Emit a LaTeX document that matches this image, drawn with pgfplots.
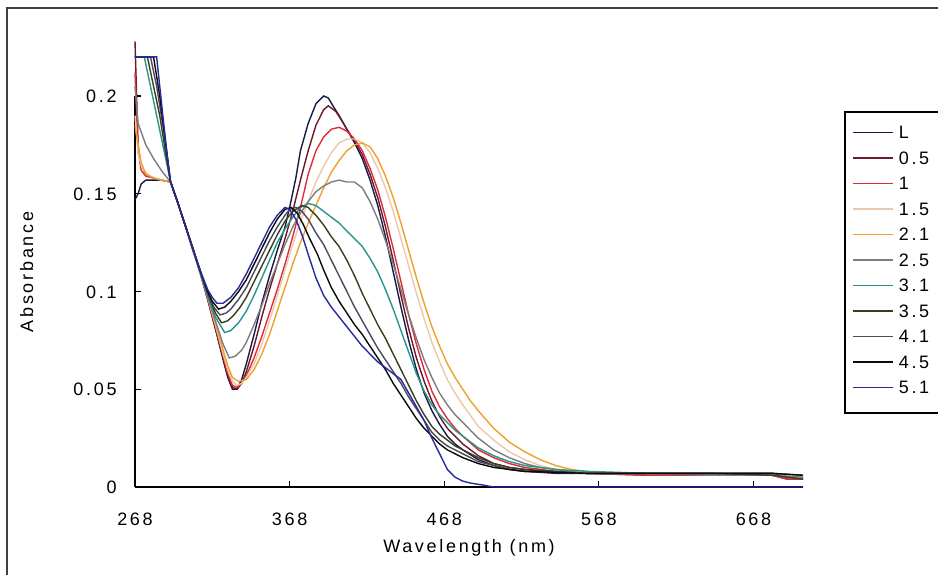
\documentclass[border=0pt]{standalone}
\usepackage{pgfplots}
\pgfplotsset{compat=1.18}
\usepackage{fontspec}
\setmainfont{Liberation Sans}[LetterSpace=15]
\definecolor{cL}{RGB}{25,25,70}
\definecolor{c05}{RGB}{110,25,40}
\definecolor{c1}{RGB}{220,45,60}
\definecolor{c15}{RGB}{238,200,172}
\definecolor{c21}{RGB}{240,160,45}
\definecolor{c25}{RGB}{125,125,125}
\definecolor{c31}{RGB}{40,150,140}
\definecolor{c35}{RGB}{60,60,30}
\definecolor{c41}{RGB}{75,75,95}
\definecolor{c45}{RGB}{10,10,10}
\definecolor{c51}{RGB}{40,40,160}
\newcommand{\cf}{\fontsize{9}{11}\selectfont}
\begin{document}
\begin{tikzpicture}[x=1pt,y=1pt]
\useasboundingbox (0,0) rectangle (469,287);
\clip (0,0) rectangle (469,287);
\fill[white] (0,0) rectangle (469,287);
\draw[line width=0.8pt, black!75] (3.5,-2) -- (3.5,283) -- (472,283);
\draw[line width=0.6pt, black] (422.5,231) rectangle (480,80.5);
\begin{axis}[
  at={(67.5pt,43.5pt)}, anchor=south west,
  scale only axis, width=334pt, height=195.5pt,
  xmin=268, xmax=700, ymin=0, ymax=0.2,
  enlargelimits=false, clip=false,
  axis x line=bottom, axis y line=left,
  axis line style={-, line width=0.8pt, black},
  tick align=inside, major tick length=3pt,
  tick style={black, line width=0.6pt},
  xtick={268,368,468,568,668},
  xticklabels={268,368,468,568,668},
  ytick={0,0.05,0.1,0.15,0.2},
  yticklabels={0,0.05,0.1,0.15,0.2},
  scaled y ticks=false,
  xticklabel style={font=\cf, inner sep=0pt, anchor=north, yshift=-12.75pt, text height=6.5pt, text depth=0pt},
  yticklabel style={font=\cf, inner sep=0pt, anchor=east, xshift=-9pt, text height=6.5pt, text depth=0pt},
  xlabel={Wavelength (nm)},
  xlabel style={font=\cf, at={(axis description cs:0.5,-0.168)}, anchor=base},
  ylabel={Absorbance},
  ylabel style={font=\cf, at={(axis description cs:-0.162,0.55)}, anchor=center, rotate=0},
  legend style={at={(axis description cs:1.0734,0.9246)}, anchor=north west, draw=none, fill=none,
    inner sep=0pt, row sep=6.25pt, font=\cf,
    nodes={inner sep=0pt, text height=6.5pt, text depth=0pt},
    /tikz/every odd column/.append style={column sep=2.5pt}},
  legend cell align=left,
  legend image code/.code={\draw[#1] (0pt,0pt) -- (20pt,0pt);},
  every axis plot/.append style={line width=0.7pt},
]
\addplot[cL] coordinates {(268,0.147)(270,0.150)(272,0.155)(275,0.157)(280,0.157)(285,0.157)(291,0.156)(295,0.147)(300,0.135)(305,0.122)(310,0.110)(315,0.096)(320,0.081)(325,0.065)(328,0.056)(331,0.050)(334,0.050)(337,0.055)(340,0.063)(345,0.078)(350,0.094)(355,0.108)(360,0.121)(365,0.133)(368,0.143)(372,0.158)(375,0.172)(380,0.186)(385,0.196)(390,0.200)(393,0.199)(396,0.195)(400,0.190)(405,0.183)(410,0.176)(415,0.168)(420,0.157)(425,0.144)(430,0.128)(435,0.110)(440,0.092)(445,0.075)(450,0.060)(455,0.048)(460,0.039)(465,0.032)(470,0.026)(475,0.022)(480,0.019)(490,0.014)(500,0.011)(510,0.009)(520,0.008)(530,0.0075)(540,0.007)(560,0.007)(580,0.007)(600,0.007)(620,0.007)(640,0.007)(660,0.007)(680,0.007)(690,0.005)(700,0.005)};
\addlegendentry{L}
\addplot[c05] coordinates {(268,0.228)(270,0.175)(272,0.163)(275,0.160)(280,0.158)(285,0.157)(291,0.156)(295,0.147)(300,0.135)(305,0.123)(310,0.110)(315,0.096)(320,0.081)(325,0.066)(328,0.057)(331,0.051)(334,0.050)(337,0.053)(340,0.059)(345,0.072)(350,0.087)(355,0.101)(360,0.114)(365,0.127)(370,0.141)(375,0.157)(380,0.172)(385,0.185)(390,0.193)(393,0.195)(398,0.192)(402,0.187)(405,0.183)(410,0.177)(415,0.170)(420,0.160)(425,0.148)(430,0.133)(435,0.116)(440,0.098)(445,0.081)(450,0.066)(455,0.054)(460,0.044)(465,0.036)(470,0.030)(475,0.026)(480,0.022)(490,0.016)(500,0.012)(510,0.010)(520,0.009)(530,0.008)(540,0.0075)(560,0.007)(600,0.006)(640,0.006)(680,0.006)(690,0.004)(700,0.004)};
\addlegendentry{0.5}
\addplot[c1] coordinates {(268,0.212)(270,0.172)(272,0.162)(275,0.159)(280,0.158)(285,0.157)(291,0.156)(295,0.147)(300,0.135)(305,0.123)(310,0.110)(315,0.097)(320,0.082)(325,0.067)(328,0.058)(331,0.052)(334,0.051)(337,0.053)(340,0.057)(345,0.066)(350,0.077)(355,0.089)(360,0.101)(365,0.114)(370,0.128)(375,0.143)(380,0.160)(385,0.172)(390,0.179)(395,0.183)(400,0.184)(405,0.182)(410,0.178)(415,0.172)(420,0.163)(425,0.152)(430,0.138)(435,0.122)(440,0.105)(445,0.088)(450,0.073)(455,0.060)(460,0.049)(465,0.041)(470,0.035)(475,0.030)(480,0.026)(490,0.019)(500,0.015)(510,0.012)(520,0.010)(530,0.009)(540,0.008)(560,0.007)(600,0.006)(640,0.006)(680,0.006)(690,0.004)(700,0.004)};
\addlegendentry{1}
\addplot[c15] coordinates {(268,0.19)(270,0.17)(273,0.162)(278,0.159)(285,0.157)(291,0.156)(295,0.147)(300,0.135)(305,0.123)(310,0.110)(315,0.097)(320,0.083)(325,0.068)(328,0.060)(331,0.054)(334,0.052)(337,0.053)(340,0.056)(345,0.063)(350,0.073)(355,0.085)(360,0.098)(365,0.111)(370,0.124)(375,0.136)(380,0.146)(385,0.156)(390,0.164)(395,0.171)(400,0.176)(405,0.178)(410,0.178)(415,0.176)(420,0.171)(425,0.163)(430,0.153)(435,0.141)(440,0.127)(445,0.113)(450,0.099)(455,0.086)(460,0.074)(465,0.064)(470,0.055)(475,0.048)(480,0.042)(490,0.031)(500,0.024)(510,0.018)(520,0.014)(530,0.011)(540,0.009)(550,0.008)(560,0.007)(600,0.007)(640,0.007)(680,0.006)(700,0.005)};
\addlegendentry{1.5}
\addplot[c21] coordinates {(268,0.185)(270,0.175)(272,0.166)(275,0.160)(280,0.158)(285,0.157)(291,0.156)(295,0.147)(300,0.135)(305,0.123)(310,0.111)(315,0.098)(320,0.084)(325,0.070)(328,0.062)(331,0.056)(335,0.054)(340,0.055)(345,0.060)(350,0.068)(355,0.078)(360,0.090)(365,0.102)(370,0.114)(375,0.125)(380,0.135)(385,0.144)(390,0.153)(395,0.161)(400,0.167)(405,0.172)(410,0.175)(415,0.176)(420,0.174)(425,0.168)(430,0.159)(435,0.148)(440,0.135)(445,0.121)(450,0.107)(455,0.094)(460,0.082)(465,0.072)(470,0.063)(475,0.056)(480,0.050)(485,0.044)(490,0.039)(500,0.030)(510,0.023)(520,0.018)(530,0.014)(540,0.011)(550,0.009)(560,0.008)(570,0.007)(600,0.007)(640,0.007)(680,0.006)(700,0.005)};
\addlegendentry{2.1}
\addplot[c25] coordinates {(268,0.205)(270,0.186)(275,0.175)(280,0.168)(285,0.162)(291,0.156)(295,0.147)(300,0.135)(305,0.123)(310,0.110)(315,0.097)(320,0.085)(325,0.073)(329,0.066)(333,0.067)(337,0.070)(340,0.074)(345,0.083)(350,0.093)(355,0.104)(360,0.114)(365,0.124)(370,0.133)(375,0.140)(380,0.146)(385,0.151)(390,0.154)(395,0.156)(400,0.157)(405,0.156)(410,0.156)(415,0.153)(420,0.146)(425,0.137)(430,0.126)(435,0.114)(440,0.101)(445,0.088)(450,0.076)(455,0.065)(460,0.056)(465,0.048)(470,0.042)(475,0.037)(480,0.033)(490,0.025)(500,0.019)(510,0.015)(520,0.012)(530,0.010)(540,0.009)(550,0.008)(560,0.007)(600,0.007)(640,0.006)(680,0.006)(700,0.005)};
\addlegendentry{2.5}
\addplot[c31] coordinates {(268,0.22)(274,0.22)(278,0.205)(282,0.19)(286,0.175)(291,0.156)(295,0.147)(300,0.135)(305,0.123)(310,0.110)(315,0.098)(320,0.087)(326,0.079)(330,0.080)(335,0.084)(340,0.090)(345,0.098)(350,0.107)(355,0.116)(360,0.125)(365,0.132)(370,0.138)(375,0.143)(380,0.145)(385,0.144)(390,0.141)(395,0.138)(400,0.135)(405,0.131)(410,0.127)(415,0.123)(420,0.117)(425,0.110)(430,0.101)(435,0.091)(440,0.080)(445,0.069)(450,0.058)(455,0.049)(460,0.042)(465,0.037)(470,0.033)(475,0.029)(480,0.026)(490,0.020)(500,0.016)(510,0.013)(520,0.011)(530,0.010)(540,0.009)(560,0.008)(600,0.007)(640,0.007)(680,0.006)(700,0.004)};
\addlegendentry{3.1}
\addplot[c35] coordinates {(268,0.22)(276,0.22)(280,0.205)(284,0.19)(288,0.17)(291,0.156)(295,0.147)(300,0.135)(305,0.123)(310,0.111)(315,0.099)(320,0.089)(324,0.084)(328,0.085)(332,0.088)(336,0.092)(340,0.097)(345,0.105)(350,0.113)(355,0.121)(360,0.129)(365,0.136)(370,0.141)(376,0.144)(380,0.143)(385,0.139)(390,0.134)(395,0.128)(400,0.123)(405,0.116)(410,0.108)(415,0.099)(420,0.091)(425,0.083)(430,0.076)(435,0.068)(440,0.060)(445,0.052)(450,0.044)(455,0.037)(460,0.031)(465,0.027)(470,0.024)(475,0.021)(480,0.019)(490,0.015)(500,0.012)(510,0.010)(520,0.009)(540,0.008)(560,0.007)(600,0.007)(640,0.007)(680,0.006)(700,0.004)};
\addlegendentry{3.5}
\addplot[c41] coordinates {(268,0.22)(278,0.22)(282,0.205)(286,0.185)(289,0.168)(291,0.156)(295,0.147)(300,0.135)(305,0.123)(310,0.111)(315,0.099)(319,0.092)(323,0.088)(327,0.089)(330,0.091)(335,0.096)(340,0.102)(345,0.110)(350,0.118)(355,0.126)(360,0.133)(365,0.139)(368,0.142)(372,0.143)(376,0.141)(380,0.137)(385,0.130)(390,0.124)(395,0.116)(400,0.108)(405,0.100)(410,0.092)(415,0.085)(420,0.078)(425,0.071)(430,0.065)(435,0.059)(440,0.053)(445,0.046)(450,0.040)(455,0.034)(460,0.028)(465,0.024)(470,0.021)(475,0.019)(480,0.017)(490,0.013)(500,0.011)(510,0.009)(520,0.008)(540,0.0075)(560,0.007)(600,0.007)(640,0.007)(680,0.007)(700,0.006)};
\addlegendentry{4.1}
\addplot[c45] coordinates {(268,0.22)(280,0.22)(284,0.20)(288,0.175)(291,0.156)(295,0.147)(300,0.135)(305,0.123)(310,0.111)(315,0.100)(318,0.095)(322,0.091)(326,0.092)(330,0.095)(335,0.100)(340,0.106)(345,0.114)(350,0.122)(355,0.130)(360,0.137)(365,0.142)(369,0.143)(373,0.140)(377,0.134)(381,0.127)(386,0.119)(390,0.111)(395,0.102)(400,0.095)(405,0.089)(410,0.083)(415,0.078)(420,0.072)(425,0.066)(430,0.060)(435,0.053)(440,0.047)(445,0.041)(450,0.035)(455,0.030)(460,0.026)(465,0.022)(470,0.019)(475,0.017)(480,0.015)(490,0.012)(500,0.010)(510,0.009)(520,0.008)(540,0.0075)(560,0.007)(600,0.007)(640,0.007)(680,0.007)(700,0.006)};
\addlegendentry{4.5}
\addplot[c51] coordinates {(268,0.22)(282,0.22)(286,0.19)(289,0.168)(291,0.156)(295,0.147)(300,0.135)(305,0.123)(310,0.111)(315,0.101)(318,0.097)(321,0.094)(325,0.094)(330,0.097)(335,0.102)(340,0.109)(345,0.117)(350,0.125)(355,0.133)(360,0.139)(365,0.143)(368,0.142)(372,0.137)(376,0.129)(380,0.119)(385,0.107)(390,0.098)(395,0.092)(400,0.087)(405,0.082)(410,0.077)(415,0.072)(420,0.068)(425,0.064)(430,0.061)(435,0.058)(440,0.055)(445,0.048)(450,0.041)(455,0.034)(460,0.025)(465,0.017)(470,0.009)(475,0.005)(480,0.003)(485,0.002)(493,0.001)(500,0)(700,0)};
\addlegendentry{5.1}
\end{axis}
\end{tikzpicture}
\end{document}
